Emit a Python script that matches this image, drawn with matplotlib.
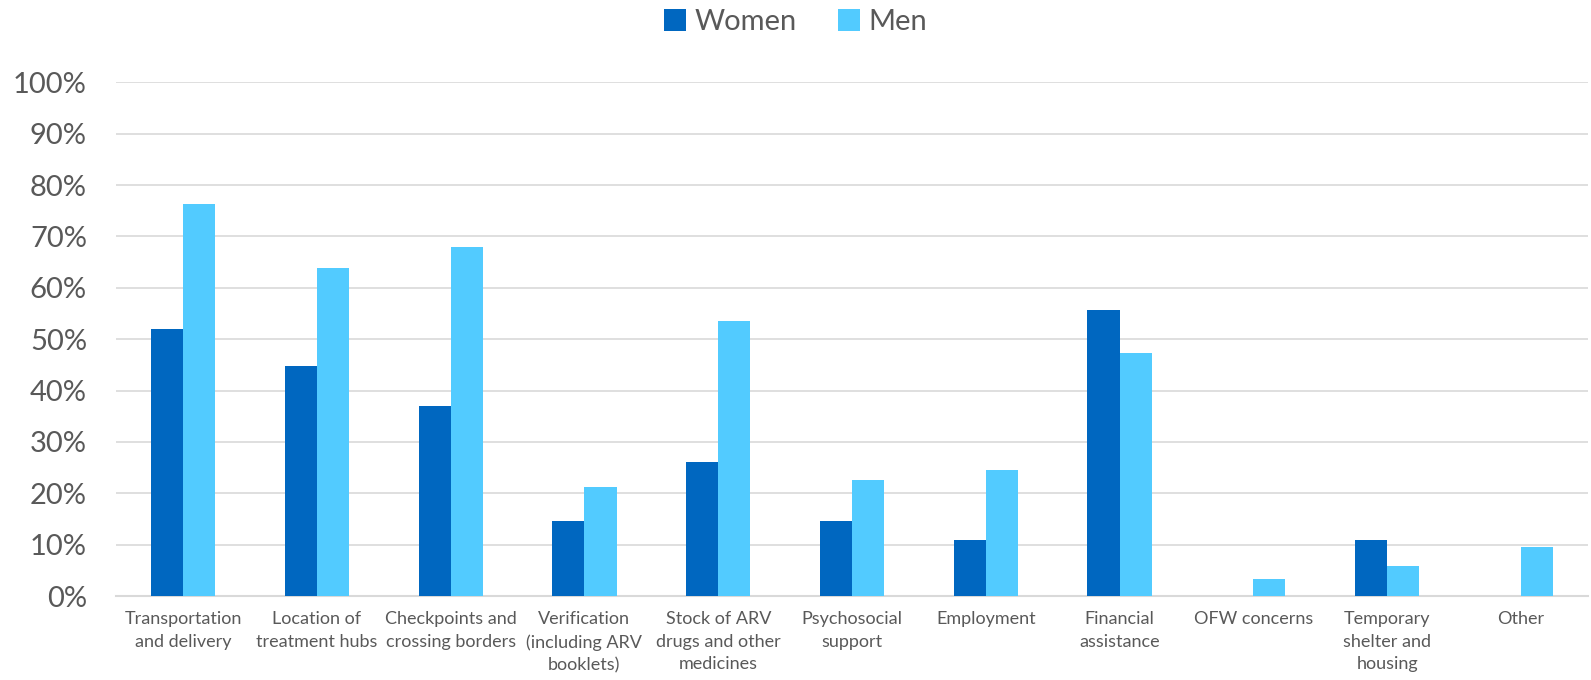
import matplotlib.pyplot as plt
import numpy as np

# categories and values (percent)
categories = ['Transportation\nand delivery', 'Location of\ntreatment hubs',
              'Checkpoints and\ncrossing borders', 'Verification\n(including ARV\nbooklets)',
              'Stock of ARV\ndrugs and other\nmedicines', 'Psychosocial\nsupport',
              'Employment', 'Financial\nassistance', 'OFW concerns',
              'Temporary\nshelter and\nhousing', 'Other']
women = [51.9, 44.8, 36.9, 14.6, 26.0, 14.6, 11.0, 55.6, 0.0, 11.0, 0.0]
men = [76.3, 63.9, 68.0, 21.3, 53.5, 22.5, 24.5, 47.3, 3.4, 5.9, 9.5]
yticks = list(range(0, 101, 10))

plt.rcParams['font.family'] = ['Lato', 'DejaVu Sans']
gray = '#595959'

fig = plt.figure(figsize=(15.91, 6.8), dpi=100)
ax = fig.add_axes([0.073, 0.1235, 0.925, 0.7555])

x = np.arange(len(categories))
w = 0.24
ax.bar(x - w / 2, women, w, color='#0067C0', label='Women', zorder=3)
ax.bar(x + w / 2, men, w, color='#52CBFF', label='Men', zorder=3)

ax.set_xlim(-0.5, len(categories) - 0.5)
ax.set_ylim(0, 100)
ax.set_yticks(yticks)
ax.set_yticklabels([f'{t}%' for t in yticks], fontsize=21, color=gray)
ax.set_xticks(x)
ax.set_xticklabels(categories, fontsize=13, color=gray, va='top', linespacing=1.5)
ax.tick_params(axis='both', length=0)
ax.tick_params(axis='y', pad=21)
ax.tick_params(axis='x', pad=11)

ax.grid(axis='y', color='#D9D9D9', lw=1.2, zorder=0)
for s in ['top', 'right', 'left']:
    ax.spines[s].set_visible(False)
ax.spines['bottom'].set_color('#D9D9D9')
ax.spines['bottom'].set_linewidth(1.5)

fig.legend(loc='upper center', bbox_to_anchor=(0.5, 1.025), ncol=2, frameon=False,
           fontsize=21, labelcolor=gray, handlelength=0.75, handleheight=0.75,
           handletextpad=0.3, columnspacing=1.4)

fig.savefig('out.png', dpi=100)
